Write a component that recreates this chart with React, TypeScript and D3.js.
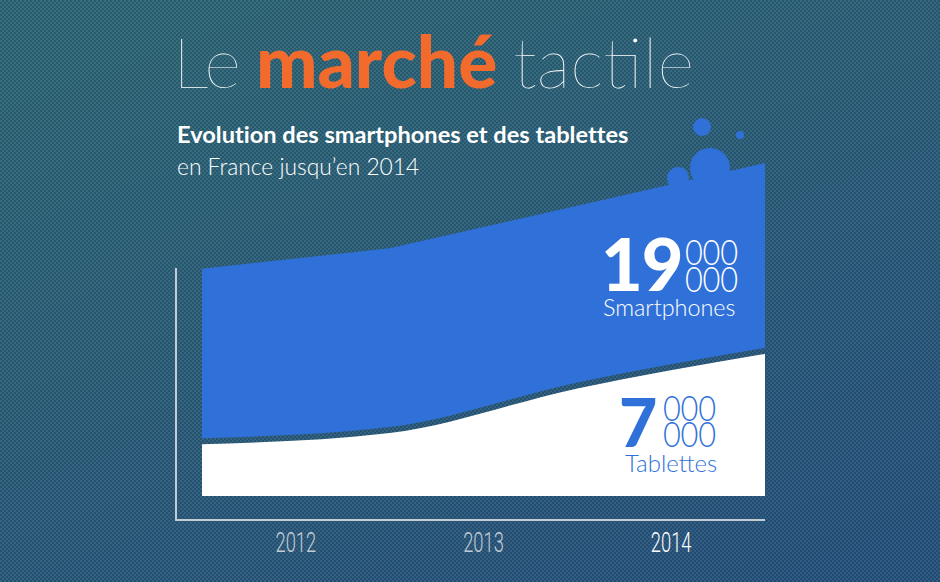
import React from "react";
import * as d3 from "d3";

const W = 940;
const H = 582;

// Data (millions)
const years = ["2012", "2013", "2014"];
const xKnots = [0, 1, 2, 3]; // band edges: start 2012, 2012/13, 2013/14, end 2014
const tablettes = [2.55, 3.1, 5.3, 7.0];
const total = [11.2, 12.2, 14.3, 16.4];
const smartphonesLabel = ["19", "000", "000", "Smartphones"];
const tablettesLabel = ["7", "000", "000", "Tablettes"];

const FONT = "Lato, 'Open Sans', sans-serif";
const BLUE = "#3071d9";

function Zeros({ x, y, fill, text }: { x: number; y: number; fill: string; text: string }) {
  return (
    <text
      transform={`translate(${x},${y}) scale(0.88,1)`}
      fontFamily={FONT}
      fontSize={35}
      fontWeight={300}
      fill={fill}
      letterSpacing={-0.3}
    >
      {text}
    </text>
  );
}

export default function App() {
  const x = d3.scaleLinear().domain([0, 3]).range([202, 765]);
  const y = d3.scaleLinear().domain([0, 10]).range([496, 293]);
  const band = d3.scaleBand().domain(years).range([202, 765]);
  const GAP = 6;

  const whiteArea = d3
    .area<number>()
    .x((_, i) => x(xKnots[i]))
    .y0(() => y(0))
    .y1((d) => y(d))
    .curve(d3.curveMonotoneX);

  const bluePath = (() => {
    const top = d3
      .line<number>()
      .x((_, i) => x(xKnots[i]))
      .y((d) => y(d))
      .curve(d3.curveLinear)(total) as string;
    const bottomPts = tablettes
      .map((t, i) => [x(xKnots[i]), y(t) - GAP] as [number, number])
      .reverse();
    const bottom = d3.line().curve(d3.curveMonotoneX)(bottomPts) as string;
    return top + "L" + bottom.slice(1) + "Z";
  })();

  const bubbles = [
    { cx: 702, cy: 127, r: 9 },
    { cx: 740, cy: 135, r: 4 },
    { cx: 710, cy: 168, r: 20 },
    { cx: 678, cy: 178, r: 11 },
  ];

  return (
    <svg width={W} height={H} style={{ position: "absolute", left: 0, top: 0 }}>
      <defs>
        <linearGradient id="bg" x1="0.2" y1="0" x2="0.8" y2="1">
          <stop offset="0" stopColor="#2a6474" />
          <stop offset="0.5" stopColor="#285a77" />
          <stop offset="1" stopColor="#24507b" />
        </linearGradient>
        <pattern id="chk" width="4" height="4" patternUnits="userSpaceOnUse">
          <rect x="0" y="0" width="2" height="2" fill="#ffffff" opacity="0.07" />
          <rect x="2" y="2" width="2" height="2" fill="#ffffff" opacity="0.07" />
          <rect x="2" y="0" width="2" height="2" fill="#000000" opacity="0.08" />
          <rect x="0" y="2" width="2" height="2" fill="#000000" opacity="0.08" />
        </pattern>
      </defs>
      <rect width={W} height={H} fill="url(#bg)" />
      <rect width={W} height={H} fill="url(#chk)" />

      {/* Title */}
      <text x={173} y={88} fontFamily={FONT} fontSize={71} fill="#ffffff">
        <tspan fontWeight={100}>Le</tspan>
        <tspan fontWeight={900} fill="#f26b2d" fontSize={73} dx={15}>marché</tspan>
        <tspan fontWeight={100} dx={16}>tactile</tspan>
      </text>
      <text
        x={177}
        y={143}
        fontFamily={FONT}
        fontSize={23.6}
        fontWeight={700}
        fill="#ffffff"
        style={{ fontVariantLigatures: "none" }}
      >
        Evolution des smartphones et des tablettes
      </text>
      <text x={177} y={175} fontFamily={FONT} fontSize={22.8} fontWeight={300} fill="#ffffff">
        en France jusqu’en 2014
      </text>

      {/* Bubbles */}
      {bubbles.map((b, i) => (
        <circle key={i} cx={b.cx} cy={b.cy} r={b.r} fill={BLUE} />
      ))}

      {/* Areas */}
      <path d={bluePath} fill={BLUE} />
      <path d={whiteArea(tablettes) || ""} fill="#ffffff" />

      {/* Axes */}
      <line x1={176} y1={268} x2={176} y2={521} stroke="#c3ccd3" strokeWidth={2} />
      <line x1={175} y1={520} x2={765} y2={520} stroke="#c3ccd3" strokeWidth={2} />
      {years.map((yr, i) => {
        const cx = (band(yr) as number) + band.bandwidth() / 2;
        return (
          <text
            key={yr}
            transform={`translate(${cx},552) scale(0.68,1)`}
            textAnchor="middle"
            fontFamily="Roboto, sans-serif"
            fontWeight={300}
            fontSize={27}
            fill={i === years.length - 1 ? "#ffffff" : "#c3ccd3"}
          >
            {yr}
          </text>
        );
      })}

      {/* Smartphones label */}
      <text x={601} y={291} fontFamily={FONT} fontSize={72} fontWeight={900} fill="#ffffff" letterSpacing={-1}>
        {smartphonesLabel[0]}
      </text>
      <Zeros x={685} y={265} fill="#ffffff" text={smartphonesLabel[1]} />
      <Zeros x={685} y={292} fill="#ffffff" text={smartphonesLabel[2]} />
      <text x={603} y={316} fontFamily={FONT} fontSize={23.4} fontWeight={300} fill="#ffffff">
        {smartphonesLabel[3]}
      </text>

      {/* Tablettes label */}
      <text x={619} y={447} fontFamily={FONT} fontSize={66} fontWeight={900} fill={BLUE}>
        {tablettesLabel[0]}
      </text>
      <Zeros x={663} y={421} fill={BLUE} text={tablettesLabel[1]} />
      <Zeros x={663} y={447} fill={BLUE} text={tablettesLabel[2]} />
      <text x={625} y={472} fontFamily={FONT} fontSize={24} fontWeight={300} fill={BLUE}>
        {tablettesLabel[3]}
      </text>
    </svg>
  );
}
